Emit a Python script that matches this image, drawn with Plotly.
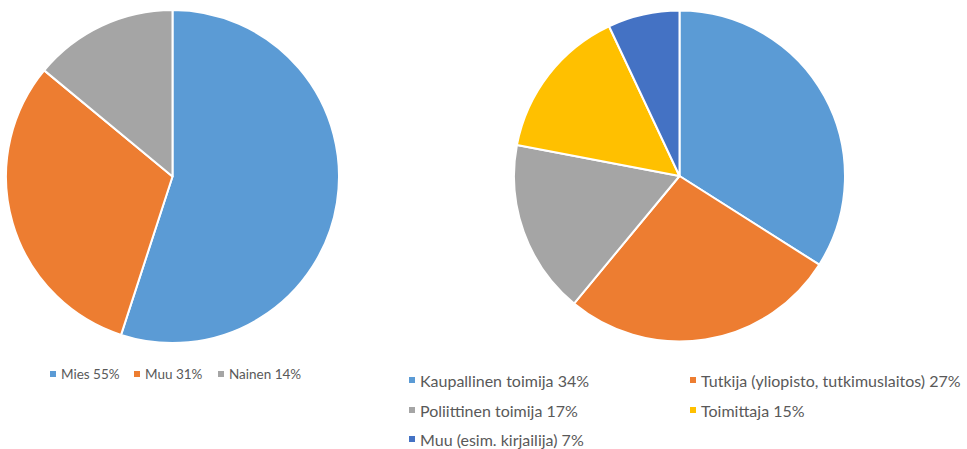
import plotly.graph_objects as go

W, H = 967, 449

gender_labels = ["Mies", "Muu", "Nainen"]
gender_values = [55, 31, 14]
gender_colors = ["#5B9BD5", "#ED7D31", "#A5A5A5"]

role_labels = ["Kaupallinen toimija", "Tutkija (yliopisto, tutkimuslaitos)",
               "Poliittinen toimija", "Toimittaja", "Muu (esim. kirjailija)"]
role_values = [34, 27, 17, 15, 7]
role_colors = ["#5B9BD5", "#ED7D31", "#A5A5A5", "#FFC000", "#4472C4"]

fig = go.Figure()

def px_x(x):
    return x / W

def px_y(y):
    return 1 - y / H

fig.add_trace(go.Pie(
    labels=gender_labels, values=gender_values, sort=False, direction="clockwise",
    rotation=0, textinfo="none", hoverinfo="label+percent",
    marker=dict(colors=gender_colors, line=dict(color="white", width=2)),
    domain=dict(x=[px_x(6), px_x(339)], y=[px_y(343), px_y(10)]),
    showlegend=False,
))
fig.add_trace(go.Pie(
    labels=role_labels, values=role_values, sort=False, direction="clockwise",
    rotation=0, textinfo="none", hoverinfo="label+percent",
    marker=dict(colors=role_colors, line=dict(color="white", width=2)),
    domain=dict(x=[px_x(514), px_x(845)], y=[px_y(342), px_y(10)]),
    showlegend=False,
))

annotations = []
shapes = []

def legend_item(x, y, color, text, size):
    shapes.append(dict(type="rect", xref="paper", yref="paper",
                       x0=px_x(x), x1=px_x(x + 6), y0=px_y(y + 3), y1=px_y(y - 3),
                       fillcolor=color, line=dict(width=0)))
    annotations.append(dict(x=px_x(x + 9), y=px_y(y), xref="paper", yref="paper",
                            xanchor="left", yanchor="middle", showarrow=False,
                            text=text, font=dict(size=size, color="#595959",
                                                  family="Lato, Open Sans, sans-serif")))

left_pos = [(50, 374), (134, 374), (218, 374)]
for (x, y), lab, v, c in zip(left_pos, gender_labels, gender_values, gender_colors):
    legend_item(x, y, c, f"{lab} {v}%", 13.5)

right_pos = [(409, 380), (690, 380), (409, 410), (690, 410), (409, 439)]
for (x, y), lab, v, c in zip(right_pos, role_labels, role_values, role_colors):
    legend_item(x, y, c, f"{lab} {v}%", 16)

fig.update_layout(
    width=W, height=H, margin=dict(l=0, r=0, t=0, b=0),
    paper_bgcolor="white", plot_bgcolor="white",
    annotations=annotations, shapes=shapes,
)

fig.write_html("out.html", config={"displayModeBar": False},
               post_script="document.body.style.margin='0';document.body.style.overflow='hidden';")
